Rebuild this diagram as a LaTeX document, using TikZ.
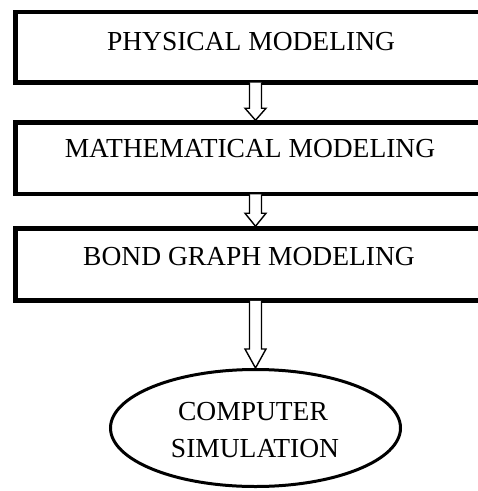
\documentclass[tikz,border=0pt]{standalone}
\usepackage{fontspec}
\setmainfont{Liberation Serif}
\usetikzlibrary{shapes.geometric,calc}

\tikzset{
  stage/.style={draw, line width=4.5bp, rectangle, inner sep=0pt,
    minimum width=484.5bp, minimum height=#1},
  caption/.style={inner sep=0pt, anchor=base,
    font=\fontsize{27.5bp}{33bp}\selectfont},
  goal/.style={draw, line width=3bp, ellipse, inner sep=0pt,
    minimum width=290bp, minimum height=117bp},
  hollow/.style={draw, line width=1.4bp, fill=white, line join=miter}
}

% hollow block arrow: start node, end node, head length
\newcommand{\blockarrow}[3]{%
  \path let \p1=(#1.south), \p2=(#2.north), \p3=(goal.north) in
    coordinate (s) at (\x3,\y1+2bp)
    coordinate (t) at (\x3,\y2)
    coordinate (h) at (\x3,\y2+#3);
  \draw[hollow] ($(s)+(-6bp,0)$) -- ($(h)+(-6bp,0)$) -- ($(h)+(-10.5bp,0)$)
    -- (t) -- ($(h)+(10.5bp,0)$) -- ($(h)+(6bp,0)$) -- ($(s)+(6bp,0)$);
}

\begin{document}
\begin{tikzpicture}[x=1bp, y=-1bp]
  \useasboundingbox (0,0) rectangle (478,491);
  \clip (0,0) rectangle (478,491);
  \fill[white] (0,0) rectangle (478,491);

  % stages
  \node[stage=70.5bp] (phys) at (257.75,47.25) {};
  \node[stage=71.5bp] (math) at (257.75,158.25) {};
  \node[stage=72bp]   (bond) at (257.75,264.5) {};
  \node[goal] (goal) at (255.5,428) {};

  % captions
  \node[caption] (tphys) at (251,51) {PHYSICAL MODELING};
  \node[caption] (tmath) at (250,158) {MATHEMATICAL MODELING};
  \node[caption] (tbond) at (249,265) {BOND GRAPH MODELING};
  \node[caption] (tcomp) at (253,420) {COMPUTER};
  \node[caption] (tsim)  at (255,457) {SIMULATION};

  % flow between stages
  \blockarrow{phys}{math}{12bp}
  \blockarrow{math}{bond}{13bp}
  \blockarrow{bond}{goal}{19bp}
\end{tikzpicture}
\end{document}
